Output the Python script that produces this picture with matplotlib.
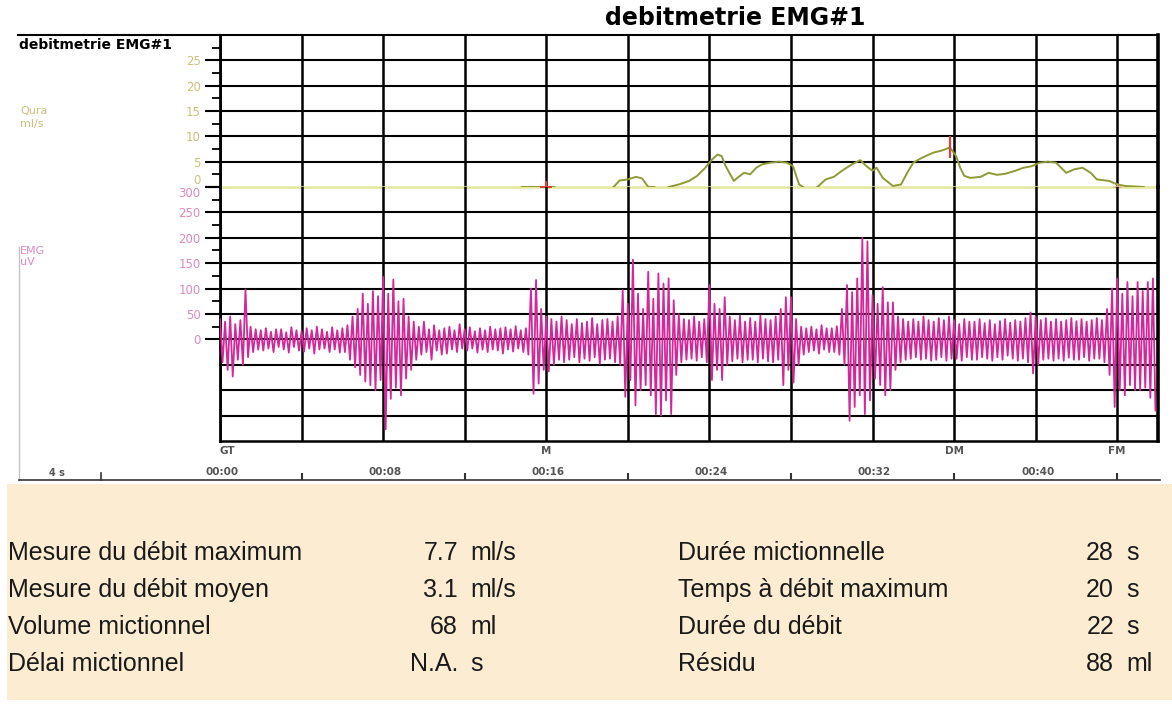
import numpy as np
import matplotlib
matplotlib.use('Agg')
import matplotlib.pyplot as plt
from matplotlib.patches import Rectangle

nan = np.nan

# flow curve (s, ml/s), NaN = no trace
flow_t = [14.8, 16.4, nan,
          19.3, 19.6, 20.0, 20.4, 20.7, 21.0, 21.3, nan,
          22.0, 22.5, 23.0, 23.4, 23.8, 24.1, 24.4, 24.6, 24.8, 25.2, 25.4, 25.7,
          26.0, 26.3, 26.6, 27.0, 27.4, 27.8, 28.1, 28.4, 28.6, nan,
          29.3, 29.7, 30.1, 30.5, 31.0, 31.4, 31.7, 32.0, 32.2, 32.5, 33.0, 33.4,
          33.7, 34.0, 34.3, 34.6, 35.0, 35.4, 35.8, 36.1, 36.3, 36.5, 36.8, 37.3,
          37.7, 38.1, 38.5, 39.0, 39.4, 39.8, 40.2, 40.6, 41.0, 41.5, 41.9, 42.3,
          42.7, 43.0, 43.6, 44.0, 44.4, 45.3]
flow_v = [0, 0, nan,
          0, 1.3, 1.5, 2.0, 1.7, 0, 0, nan,
          0, 0.5, 1.2, 2.2, 3.8, 5.3, 6.4, 6.1, 4.1, 1.2, 1.9, 2.8,
          2.5, 3.8, 4.5, 4.8, 5.0, 4.8, 4.1, 0.5, 0, nan,
          0, 1.5, 2.0, 3.2, 4.5, 5.3, 4.1, 3.2, 3.8, 1.8, 0.2, 0.5,
          2.8, 4.8, 5.5, 6.1, 6.8, 7.2, 7.8, 6.1, 3.8, 2.2, 1.8, 2.0,
          2.8, 2.4, 2.6, 3.2, 3.8, 4.1, 4.8, 5.0, 4.8, 2.8, 3.5, 3.8,
          2.8, 1.5, 1.2, 0.5, 0.2, 0]

# EMG peaks / troughs every 0.25 s (uV)
emg_hi = [40, 35, 45, 30, 38, 98, 25, 20, 18, 22, 15, 20, 20, 14, 24, 18,
          16, 22, 18, 25, 20, 15, 24, 18, 22, 28, 45, 60, 90, 70, 95, 85,
          123, 90, 118, 75, 80, 45, 35, 25, 35, 20, 28, 18, 22, 25, 18, 30,
          20, 24, 16, 22, 18, 25, 20, 22, 24, 20, 26, 18, 22, 100, 117, 60,
          45, 40, 35, 45, 38, 30, 40, 32, 35, 42, 30, 38, 40, 35, 45, 97,
          70, 157, 90, 60, 133, 80, 130, 110, 120, 77, 50, 40, 38, 45, 35, 40,
          107, 70, 60, 83, 45, 38, 47, 35, 42, 35, 47, 40, 38, 45, 60, 83,
          83, 40, 25, 22, 25, 20, 28, 22, 22, 26, 60, 107, 93, 120, 200, 193,
          87, 70, 103, 73, 73, 45, 40, 35, 40, 35, 45, 38, 35, 42, 38, 45,
          38, 30, 40, 35, 35, 40, 32, 38, 30, 36, 40, 33, 38, 35, 42, 53,
          45, 38, 42, 35, 40, 35, 38, 42, 36, 40, 35, 38, 42, 38, 60, 100,
          120, 90, 113, 85, 113, 95, 113, 120]
emg_lo = [-45, -60, -73, -40, -50, -35, -25, -20, -22, -18, -25, -15, -20, -26, -15, -22,
          -24, -18, -28, -20, -18, -25, -20, -26, -25, -40, -55, -70, -83, -90, -100, -80,
          -177, -117, -95, -110, -77, -60, -40, -30, -25, -40, -22, -30, -28, -20, -25, -18,
          -22, -18, -26, -20, -25, -20, -22, -28, -20, -24, -18, -25, -30, -107, -87, -60,
          -63, -50, -40, -45, -40, -35, -45, -38, -42, -35, -48, -40, -38, -45, -50, -113,
          -80, -130, -100, -90, -110, -147, -150, -120, -147, -70, -45, -40, -38, -42, -35, -45,
          -80, -60, -80, -50, -43, -38, -45, -40, -40, -45, -38, -43, -45, -40, -90, -60,
          -85, -50, -30, -25, -22, -28, -20, -25, -25, -30, -50, -160, -133, -110, -147, -120,
          -77, -90, -110, -100, -60, -45, -40, -38, -35, -40, -38, -42, -40, -35, -42, -38,
          -38, -42, -35, -40, -40, -35, -38, -42, -35, -40, -32, -38, -42, -38, -45, -67,
          -50, -40, -38, -42, -38, -42, -36, -40, -40, -35, -42, -38, -38, -45, -70, -133,
          -100, -110, -90, -100, -100, -95, -115, -140]

flow_ticks = [0, 5, 10, 15, 20, 25]
emg_ticks = [0, 50, 100, 150, 200, 250, 300]
time_ticks = [0, 8, 16, 24, 32, 40]
time_labels = ['00:00', '00:08', '00:16', '00:24', '00:32', '00:40']
event_t = [0, 16, 36, 44]
event_labels = ['GT', 'M', 'DM', 'FM']

left_labels = ['Mesure du débit maximum', 'Mesure du débit moyen', 'Volume mictionnel', 'Délai mictionnel']
left_values = ['7.7', '3.1', '68', 'N.A.']
left_units = ['ml/s', 'ml/s', 'ml', 's']
right_labels = ['Durée mictionnelle', 'Temps à débit maximum', 'Durée du débit', 'Résidu']
right_values = ['28', '20', '22', '88']
right_units = ['s', 's', 's', 'ml']

W, H = 1172, 707
T_MAX = 46

def box(l, t, r, b):
    return [l / W, 1 - b / H, (r - l) / W, (b - t) / H]

fig = plt.figure(figsize=(W / 100, H / 100), dpi=100)

flow_col = '#c9c27a'
emg_col = '#d98bbb'
ax_f = fig.add_axes(box(220, 35, 1158, 187))
ax_e = fig.add_axes(box(220, 187, 1158, 441))
ax_t = fig.add_axes(box(220, 441, 1158, 480))

for ax in (ax_f, ax_e):
    ax.set_facecolor('none')
    ax.set_xlim(0, T_MAX)
    for t in range(0, 45, 4):
        ax.axvline(t, color='black', lw=1.8, zorder=1)
    ax.spines['left'].set_linewidth(2)
    ax.spines['right'].set_linewidth(2.6)
    ax.tick_params(axis='x', bottom=False, labelbottom=False)
    ax.tick_params(axis='y', which='major', direction='out', length=11, width=1.5, labelsize=8.5, pad=3)
    ax.tick_params(axis='y', which='minor', direction='out', length=6, width=1.3)

ax_f.set_ylim(0, 30)
for v in flow_ticks[1:]:
    ax_f.axhline(v, color='black', lw=1.5, zorder=1)
ax_f.spines['top'].set_linewidth(1.5)
ax_f.spines['bottom'].set_visible(False)
ax_f.set_yticks(flow_ticks)
ax_f.set_yticks(np.arange(2.5, 30, 5), minor=True)
ax_f.tick_params(axis='y', labelcolor=flow_col)
ax_f.get_yticklabels()[0].set_va('bottom')
ax_f.axhline(0, color='#e6e6a0', lw=1.8, zorder=2, clip_on=False)
ax_f.plot(flow_t, flow_v, color='#8f9a35', lw=1.4, zorder=3)
ax_f.plot([16], [0], marker='+', color='#e0403a', ms=9, mew=1.5, zorder=4)
ax_f.vlines(35.8, 5.8, 10.1, color='#e0403a', lw=1.6, zorder=4)
ax_f.plot([44], [0], marker='+', color='#e89a80', ms=6, mew=1, zorder=4)

ax_e.set_ylim(-200, 300)
for v in range(-150, 300, 50):
    ax_e.axhline(v, color='black', lw=1.5, zorder=1)
ax_e.spines['top'].set_visible(False)
ax_e.spines['bottom'].set_linewidth(1.8)
ax_e.set_yticks(emg_ticks)
ax_e.set_yticks(np.arange(25, 300, 50), minor=True)
ax_e.tick_params(axis='y', labelcolor=emg_col)
ax_e.get_yticklabels()[-1].set_va('top')

t_hi = np.arange(len(emg_hi)) * 0.25
t_lo = t_hi + 0.125
emg_t = np.column_stack([t_hi, t_lo]).ravel()
emg_v = np.column_stack([emg_hi, emg_lo]).ravel()
ax_e.plot(emg_t, emg_v, color='#d4279b', lw=1.3, zorder=3)

# time axis strip
ax_t.set_xlim(0, T_MAX)
ax_t.set_ylim(0, 1)
ax_t.axis('off')
for t, lab in zip(event_t, event_labels):
    ax_t.text(t + (0.35 if lab == 'GT' else 0), 0.74, lab, ha='center', va='center',
              fontsize=7.5, fontweight='bold', color='#555555')
for t, lab in zip(time_ticks, time_labels):
    ax_t.text(t + 0.1, 0.2, lab, ha='center', va='center', fontsize=7.5,
              fontweight='bold', color='#555555')
ax_t.vlines(np.array(time_ticks) + 4, 0, 0.18, color='#333333', lw=1.5)

# page decorations
ov = fig.add_axes([0, 0, 1, 1], zorder=5)
ov.set_xlim(0, W)
ov.set_ylim(H, 0)
ov.axis('off')
ov.set_facecolor('none')
ov.add_patch(Rectangle((7, 484), W - 7, 216, facecolor='#fcecd2', edgecolor='none'))
ov.text(735, 18, 'debitmetrie EMG#1', ha='center', va='center', fontsize=17, fontweight='bold')
ov.plot([18, 220], [35, 35], color='black', lw=1.5)
ov.text(19, 45, 'debitmetrie EMG#1', va='center', fontsize=10, fontweight='bold')
ov.text(20, 111, 'Qura', va='center', fontsize=8, color=flow_col)
ov.text(20, 124, 'ml/s', va='center', fontsize=8, color=flow_col)
ov.text(20, 251, 'EMG', va='center', fontsize=8, color=emg_col)
ov.text(20, 262, 'uV', va='center', fontsize=8, color=emg_col)
ov.plot([19, 19], [247, 480], color='#c4c4c4', lw=1)
ov.plot([19, 1160], [480, 480], color='#333333', lw=1.2)
ov.plot([101, 101], [473, 480], color='#333333', lw=1.2)
ov.text(57, 473, '4 s', ha='center', va='center', fontsize=7, fontweight='bold', color='#555555')

tfont = ['Liberation Sans Narrow', 'Liberation Sans', 'DejaVu Sans']
rows_y = [553, 590, 627, 664]
for y, a, b, c in zip(rows_y, left_labels, left_values, left_units):
    ov.text(8, y, a, va='center', fontsize=18, family=tfont, color='#1a1a1a')
    ov.text(458, y, b, va='center', ha='right', fontsize=18, family=tfont, color='#1a1a1a')
    ov.text(470, y, c, va='center', fontsize=18, family=tfont, color='#1a1a1a')
for y, a, b, c in zip(rows_y, right_labels, right_values, right_units):
    ov.text(678, y, a, va='center', fontsize=18, family=tfont, color='#1a1a1a')
    ov.text(1114, y, b, va='center', ha='right', fontsize=18, family=tfont, color='#1a1a1a')
    ov.text(1126, y, c, va='center', fontsize=18, family=tfont, color='#1a1a1a')

fig.savefig('out.png', dpi=100)
